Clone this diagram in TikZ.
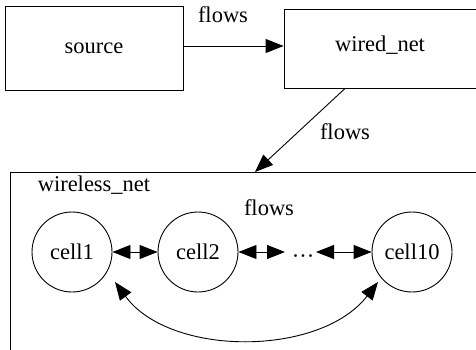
\documentclass[tikz,border=0pt]{standalone}
\usepackage{fontspec}
\setmainfont{Liberation Serif}
\usetikzlibrary{arrows.meta}
\begin{document}
\begin{tikzpicture}[x=1pt,y=-1pt,
  every node/.style={font=\fontsize{22.5}{26}\selectfont, inner sep=0pt},
  boxnode/.style={draw, line width=0.9pt, rectangle},
  cellnode/.style={draw, line width=0.9pt, circle, minimum size=80pt},
  flowarrow/.style={line width=0.9pt, -{Triangle[length=18pt,width=14pt]}},
  biarrow/.style={line width=0.9pt, {Triangle[length=18pt,width=14pt]}-{Triangle[length=18pt,width=14pt]}}]
\useasboundingbox (0,0) rectangle (476,350);
\clip (0,0) rectangle (476,350);
% boxes
\node[boxnode, minimum width=178pt, minimum height=84pt] (source) at (94,48) {source};
\node[boxnode, minimum width=206pt, minimum height=79pt] (wired) at (387,48.5) {};
\node (wiredlbl) at (380,45) {wired\_net};
\node[boxnode, minimum width=490pt, minimum height=200pt, anchor=north west] (wireless) at (10,172) {};
\node (wirelesslbl) at (94,185) {wireless\_net};
% cells
\node[cellnode] (cell1) at (72,252) {cell1};
\node[cellnode] (cell2) at (198,252) {cell2};
\node[cellnode] (cell10) at (412,252) {cell10};
\node (dots) at (303,259) {···};
% labels
\node (flow1) at (223,15) {flows};
\node (flow2) at (345,132) {flows};
\node (flow3) at (269,208) {flows};
% connectors
\draw[flowarrow] (source.east |- 0,46) -- (wired.west |- 0,46);
\coordinate (wstart) at (345,88.5);
\coordinate (wend) at (255,172);
\draw[flowarrow] (wstart) -- (wend);
\draw[biarrow] (cell1.east) -- (cell2.west);
\coordinate (d1) at (285,252);
\coordinate (d2) at (316,252);
\draw[biarrow] (cell2.east) -- (d1);
\draw[biarrow] (d2) -- (cell10.west);
\coordinate (c1) at (115,282);
\coordinate (c10) at (378,282);
\draw[biarrow] (c1) .. controls (170,357) and (320,357) .. (c10);
\end{tikzpicture}
\end{document}
